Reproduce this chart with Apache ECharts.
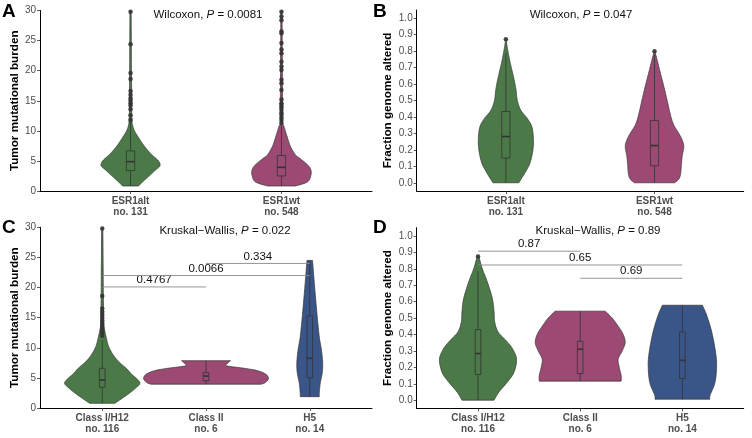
<!DOCTYPE html>
<html><head><meta charset="utf-8">
<script src="https://cdn.jsdelivr.net/npm/echarts@6/dist/echarts.min.js"></script>
<style>html,body{margin:0;padding:0;background:#fff}#c{width:752px;height:438px}</style>
</head><body><div id="c"></div>
<script>
// ---------------- DATA ----------------
const groupsAB = ['ESR1alt', 'ESR1wt'];
const countsAB = [131, 548];
const groupsCD = ['Class I/H12', 'Class II', 'H5'];
const countsCD = [116, 6, 14];

const tmbTicks = [0, 5, 10, 15, 20, 25, 30];
const fgaTicks = [0, 0.1, 0.2, 0.3, 0.4, 0.5, 0.6, 0.7, 0.8, 0.9, 1.0];

// Violin density profiles: value levels and half-widths (in category units)
const aAltLevels = [0.83, 1.5, 2.5, 3.5, 4.2, 5, 6, 7, 8, 9, 10, 11, 12, 14, 17, 20, 25, 29.8];
const aAltWidths = [0.053, 0.079, 0.123, 0.166, 0.195, 0.185, 0.142, 0.106, 0.076, 0.050, 0.026, 0.013, 0.009, 0.007, 0.007, 0.006, 0.005, 0.004];
const aWtLevels = [0.83, 1.5, 2.6, 3.5, 4.3, 5.4, 6.0, 7.4, 9.0, 10.7, 11.3, 13, 16, 20, 25, 29.8];
const aWtWidths = [0.093, 0.172, 0.195, 0.195, 0.175, 0.123, 0.093, 0.060, 0.038, 0.017, 0.008, 0.007, 0.007, 0.006, 0.005, 0.004];

const bAltLevels = [0, 0.06, 0.12, 0.2, 0.27, 0.34, 0.39, 0.44, 0.5, 0.56, 0.62, 0.68, 0.73, 0.78, 0.83, 0.872];
const bAltWidths = [0.087, 0.128, 0.162, 0.182, 0.185, 0.175, 0.145, 0.101, 0.077, 0.069, 0.057, 0.042, 0.029, 0.018, 0.008, 0.002];
const bWtLevels = [0, 0.02, 0.05, 0.1, 0.16, 0.22, 0.26, 0.3, 0.35, 0.41, 0.5, 0.585, 0.665, 0.745, 0.8];
const bWtWidths = [0.135, 0.162, 0.175, 0.18, 0.186, 0.197, 0.186, 0.164, 0.13, 0.108, 0.085, 0.063, 0.04, 0.018, 0.002];

const cClassILevels = [0.78, 1.5, 2.5, 3.4, 4.1, 4.8, 5.6, 6.6, 7.6, 8.8, 10, 11, 12.7, 14, 17, 20, 25, 29.8];
const cClassIWidths = [0.122, 0.183, 0.265, 0.328, 0.363, 0.337, 0.284, 0.231, 0.164, 0.106, 0.067, 0.048, 0.026, 0.015, 0.012, 0.010, 0.008, 0.006];
const cClassIILevels = [3.95, 4.1, 4.4, 4.9, 5.6, 6.2, 6.6, 7.0, 7.4, 7.85];
const cClassIIWidths = [0.530, 0.559, 0.583, 0.602, 0.578, 0.496, 0.366, 0.198, 0.207, 0.236];
const cH5Levels = [1.88, 2.44, 4.1, 5.76, 7.4, 9.6, 11.8, 15.2, 17.9, 21.8, 24.5];
const cH5Widths = [0.092, 0.092, 0.101, 0.120, 0.125, 0.113, 0.092, 0.072, 0.058, 0.039, 0.027];

const dClassILevels = [0, 0.05, 0.11, 0.17, 0.25, 0.315, 0.365, 0.416, 0.477, 0.537, 0.62, 0.72, 0.8, 0.872];
const dClassIWidths = [0.157, 0.205, 0.287, 0.352, 0.377, 0.336, 0.271, 0.196, 0.163, 0.157, 0.140, 0.091, 0.042, 0.010];
const dClassIILevels = [0.116, 0.15, 0.2, 0.25, 0.3, 0.35, 0.4, 0.45, 0.5, 0.542];
const dClassIIWidths = [0.401, 0.401, 0.382, 0.372, 0.411, 0.440, 0.421, 0.372, 0.313, 0.245];
const dH5Levels = [0.006, 0.03, 0.11, 0.213, 0.3, 0.416, 0.517, 0.578];
const dH5Widths = [0.269, 0.271, 0.320, 0.335, 0.323, 0.287, 0.238, 0.196];

// Box stats: [lower whisker, Q1, median, Q3, upper whisker]
const aBoxes = [[0.83, 3.38, 4.88, 6.66, 11.5], [0.83, 2.5, 3.94, 5.88, 10.9]];
const bBoxes = [[0, 0.15, 0.281, 0.433, 0.787], [0, 0.103, 0.226, 0.378, 0.78]];
const cBoxes = [[0.78, 3.43, 4.65, 6.59, 11.3], [3.95, 4.53, 5.3, 5.87, 7.85], [1.88, 5.03, 8.25, 15.3, 24.5]];
const dBoxes = [[0, 0.156, 0.284, 0.43, 0.785], [0.116, 0.162, 0.31, 0.359, 0.542], [0.006, 0.132, 0.243, 0.416, 0.578]];

// Outliers
const aOutAlt = [29.8, 24.4, 19.6, 18.6, 16.6, 16, 15.4, 15, 14.6, 14.2, 13.6, 12.6, 11.8];
const aOutWt = [29.8, 29, 28.4, 26.5, 26.2, 24.6, 23.5, 22.9, 21.5, 20.7, 20.1, 18.5, 17.9, 16.8, 15.2, 14.6, 14.3, 13.9, 13.5, 13, 12.7, 12.2, 11.8, 11.3];
const bOutAlt = [0.872];
const bOutWt = [0.80];
const cOutClassI = [29.8, 18.6, 16.5, 16, 15.5, 15, 14.5, 14, 13.5, 13, 12.5, 12];
const dOutClassI = [0.875];

// Pairwise comparisons: [group from, group to, y, p label]
const cComparisons = [[1, 2, 20.1, '0.4767'], [1, 3, 22.0, '0.0066'], [2, 3, 24.0, '0.334']];
const dComparisons = [[1, 2, 0.907, '0.87'], [1, 3, 0.823, '0.65'], [2, 3, 0.742, '0.69']];

// Global tests
const testA = ['Wilcoxon, ', '0.0081'];
const testB = ['Wilcoxon, ', '0.047'];
const testC = ['Kruskal\u2212Wallis, ', '0.022'];
const testD = ['Kruskal\u2212Wallis, ', '0.89'];

// ---------------- STYLE ----------------
const GREEN = '#4b7a48', PINK = '#9c4a73', BLUE = '#3a5689';
const FONT = '"Liberation Sans", Arial, Helvetica, sans-serif';
const OUTLINE = '#333333';
const BOXW = 0.055;

function catmull(levels, widths) {
  const out = [];
  const n = levels.length;
  for (let i = 0; i < n - 1; i++) {
    const p0 = [levels[Math.max(0, i - 1)], widths[Math.max(0, i - 1)]];
    const p1 = [levels[i], widths[i]];
    const p2 = [levels[i + 1], widths[i + 1]];
    const p3 = [levels[Math.min(n - 1, i + 2)], widths[Math.min(n - 1, i + 2)]];
    const steps = 10;
    for (let s = 0; s < steps; s++) {
      const t = s / steps, t2 = t * t, t3 = t2 * t;
      const f = (a, b, c, d) => 0.5 * ((2 * b) + (-a + c) * t + (2 * a - 5 * b + 4 * c - d) * t2 + (-a + 3 * b - 3 * c + d) * t3);
      out.push([f(p0[0], p1[0], p2[0], p3[0]), Math.max(0, f(p0[1], p1[1], p2[1], p3[1]))]);
    }
  }
  out.push([levels[n - 1], widths[n - 1]]);
  return out;
}

function violinSeries(gi, list) {
  return {
    type: 'custom', xAxisIndex: gi, yAxisIndex: gi, z: 2,
    data: list.map((v, i) => [i + 1, v.levels[0]]),
    encode: { x: 0, y: 1 },
    silent: true,
    renderItem: function (params, api) {
      const v = list[params.dataIndex];
      const x = params.dataIndex + 1;
      const band = api.size([1, 0])[0];
      const prof = catmull(v.levels, v.widths);
      const left = [], right = [];
      prof.forEach(p => {
        const c = api.coord([x, p[0]]);
        left.push([c[0] - p[1] * band, c[1]]);
        right.push([c[0] + p[1] * band, c[1]]);
      });
      return {
        type: 'polygon',
        shape: { points: left.concat(right.reverse()) },
        style: { fill: v.color, stroke: OUTLINE, lineWidth: 0.7 }
      };
    }
  };
}

function boxSeries(gi, boxes) {
  return {
    type: 'custom', xAxisIndex: gi, yAxisIndex: gi, z: 3, silent: true,
    data: boxes.map((b, i) => [i + 1].concat(b)),
    encode: { x: 0, y: [1, 2, 3, 4, 5] },
    renderItem: function (params, api) {
      const x = api.value(0);
      const pMin = api.coord([x, api.value(1)]);
      const pQ1 = api.coord([x, api.value(2)]);
      const pMed = api.coord([x, api.value(3)]);
      const pQ3 = api.coord([x, api.value(4)]);
      const pMax = api.coord([x, api.value(5)]);
      const hw = api.size([BOXW, 0])[0] / 2;
      const ls = { stroke: OUTLINE, lineWidth: 0.8, fill: null };
      return {
        type: 'group',
        children: [
          { type: 'line', shape: { x1: pMin[0], y1: pMin[1], x2: pQ1[0], y2: pQ1[1] }, style: ls },
          { type: 'line', shape: { x1: pQ3[0], y1: pQ3[1], x2: pMax[0], y2: pMax[1] }, style: ls },
          { type: 'rect', shape: { x: pQ3[0] - hw, y: pQ3[1], width: hw * 2, height: pQ1[1] - pQ3[1] }, style: ls },
          { type: 'line', shape: { x1: pMed[0] - hw, y1: pMed[1], x2: pMed[0] + hw, y2: pMed[1] }, style: { stroke: OUTLINE, lineWidth: 1.6 } }
        ]
      };
    }
  };
}

function outlierSeries(gi, x, vals) {
  return {
    type: 'scatter', xAxisIndex: gi, yAxisIndex: gi, z: 4, silent: true,
    symbolSize: 4.5, itemStyle: { color: '#333333', opacity: 0.9 },
    data: vals.map(v => [x, v])
  };
}

function compSeries(gi, comps) {
  return {
    type: 'custom', xAxisIndex: gi, yAxisIndex: gi, z: 5, silent: true,
    data: comps.map(c => [c[0], c[1], c[2]]),
    encode: { x: [0, 1], y: 2 },
    renderItem: function (params, api) {
      const a = api.coord([api.value(0), api.value(2)]);
      const b = api.coord([api.value(1), api.value(2)]);
      return {
        type: 'group',
        children: [
          { type: 'line', shape: { x1: a[0], y1: a[1], x2: b[0], y2: a[1] }, style: { stroke: '#8a8a8a', lineWidth: 0.9 } },
          { type: 'text', style: { text: comps[params.dataIndex][3], x: (a[0] + b[0]) / 2, y: a[1] - 1, align: 'center', verticalAlign: 'bottom', font: '11.5px ' + FONT, fill: '#111' } }
        ]
      };
    }
  };
}

function xAxis(gi, groups, counts) {
  const vals = groups.map((g, i) => i + 1);
  return {
    type: 'value', gridIndex: gi, min: 0.4, max: groups.length + 0.6,
    axisLine: { show: true, onZero: false, lineStyle: { color: '#000', width: 1 } },
    axisTick: { show: true, customValues: vals, length: 3, lineStyle: { color: '#333', width: 0.8 } },
    splitLine: { show: false },
    axisLabel: {
      customValues: vals, margin: 5,
      formatter: v => '{a|' + groups[Math.round(v) - 1] + '}\n{a|no. ' + counts[Math.round(v) - 1] + '}',
      rich: { a: { fontFamily: FONT, fontWeight: 'bold', fontSize: 10, color: '#4d4d4d', lineHeight: 10.5 } }
    }
  };
}

function yAxis(gi, name, ticks, min, max, gap, dec) {
  return {
    type: 'value', gridIndex: gi, min: min, max: max,
    name: name, nameLocation: 'middle', nameGap: gap,
    nameTextStyle: { fontFamily: FONT, fontWeight: 'bold', fontSize: 11.7, color: '#000' },
    axisLine: { show: true, onZero: false, lineStyle: { color: '#000', width: 1 } },
    axisTick: { show: true, customValues: ticks, length: 3, lineStyle: { color: '#333', width: 0.8 } },
    splitLine: { show: false },
    axisLabel: {
      customValues: ticks, margin: 4, fontFamily: FONT, fontSize: 10, color: '#4d4d4d',
      formatter: v => dec ? v.toFixed(1) : String(Math.round(v))
    }
  };
}

function titleText(x, y, parts) {
  return {
    type: 'text', x: x, y: y, silent: true,
    style: {
      text: '{a|' + parts[0] + '}{b|P}{a| = ' + parts[1] + '}',
      align: 'center', verticalAlign: 'middle',
      rich: {
        a: { fontFamily: FONT, fontSize: 11.5, fill: '#111' },
        b: { fontFamily: FONT, fontSize: 11.5, fontStyle: 'italic', fill: '#111' }
      }
    }
  };
}

function letter(x, y, t) {
  return { type: 'text', x: x, y: y, silent: true, style: { text: t, font: 'bold 19px ' + FONT, fill: '#000', align: 'left', verticalAlign: 'top' } };
}

const chart = echarts.init(document.getElementById('c'), null, { renderer: 'canvas' });
chart.setOption({
  animation: false,
  backgroundColor: '#fff',
  grid: [
    { left: 40, top: 10.5, width: 332, height: 180.5 },
    { left: 416.7, top: 10, width: 327, height: 181 },
    { left: 40, top: 227.3, width: 332, height: 180.7 },
    { left: 416.7, top: 227.7, width: 327, height: 180.7 }
  ],
  xAxis: [
    xAxis(0, groupsAB, countsAB),
    xAxis(1, groupsAB, countsAB),
    xAxis(2, groupsCD, countsCD),
    xAxis(3, groupsCD, countsCD)
  ],
  yAxis: [
    yAxis(0, 'Tumor mutational burden', tmbTicks, 0, 30, 17, false),
    yAxis(1, 'Fraction genome altered', fgaTicks, -0.05, 1.05, 23, true),
    yAxis(2, 'Tumor mutational burden', tmbTicks, 0, 30, 17, false),
    yAxis(3, 'Fraction genome altered', fgaTicks, -0.05, 1.05, 23, true)
  ],
  graphic: [
    letter(2, 2, 'A'), letter(373, 2, 'B'), letter(2, 218, 'C'), letter(373, 218, 'D'),
    titleText(208, 14.5, testA), titleText(581, 14.5, testB),
    titleText(225, 231, testC), titleText(598, 231, testD)
  ],
  series: [
    violinSeries(0, [{ levels: aAltLevels, widths: aAltWidths, color: GREEN }, { levels: aWtLevels, widths: aWtWidths, color: PINK }]),
    violinSeries(1, [{ levels: bAltLevels, widths: bAltWidths, color: GREEN }, { levels: bWtLevels, widths: bWtWidths, color: PINK }]),
    violinSeries(2, [{ levels: cClassILevels, widths: cClassIWidths, color: GREEN }, { levels: cClassIILevels, widths: cClassIIWidths, color: PINK }, { levels: cH5Levels, widths: cH5Widths, color: BLUE }]),
    violinSeries(3, [{ levels: dClassILevels, widths: dClassIWidths, color: GREEN }, { levels: dClassIILevels, widths: dClassIIWidths, color: PINK }, { levels: dH5Levels, widths: dH5Widths, color: BLUE }]),
    boxSeries(0, aBoxes), boxSeries(1, bBoxes), boxSeries(2, cBoxes), boxSeries(3, dBoxes),
    outlierSeries(0, 1, aOutAlt), outlierSeries(0, 2, aOutWt),
    outlierSeries(1, 1, bOutAlt), outlierSeries(1, 2, bOutWt),
    outlierSeries(2, 1, cOutClassI), outlierSeries(3, 1, dOutClassI),
    compSeries(2, cComparisons), compSeries(3, dComparisons)
  ]
});
</script>
</body></html>
